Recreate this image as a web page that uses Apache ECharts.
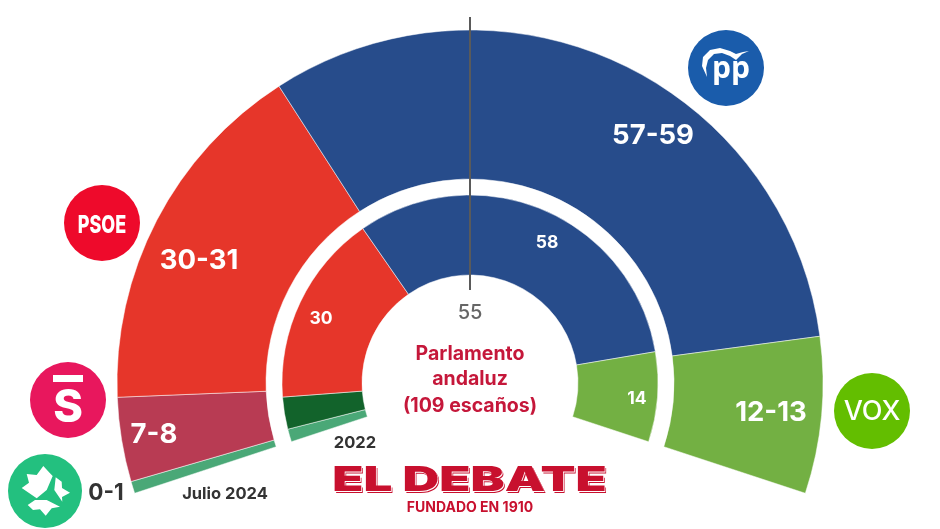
<!DOCTYPE html>
<html><head><meta charset="utf-8">
<style>html,body{margin:0;padding:0;background:#fff}#c{width:940px;height:529px}</style>
<script src="https://cdn.jsdelivr.net/npm/echarts@6/dist/echarts.min.js"></script>
</head><body><div id="c"></div>
<script>
const parties = ['AA','Sumar','PSOE','PP','Vox'];
const poll = [1, 7, 30, 58, 13];
const result2022 = [2, 5, 30, 58, 14];
const pollColors = ['#4aa877','#b83b53','#e6362a','#274c8b','#73b043'];
const colors2022 = ['#4aa877','#12632b','#e6362a','#274c8b','#73b043'];
const pollLabels = ['0-1','7-8','30-31','57-59','12-13'];
const labels2022 = ['','','30','58','14'];
const majority = '55';
const centerLines = ['Parlamento','andaluz','(109 escaños)'];
const F = 'Inter, Roboto, "Liberation Sans", sans-serif';

const CX = 470, CY = 383, SPREAD = 18.2;
function ring(values, colors, radius, z) {
  return {
    type:'pie', center:[CX,CY], radius, startAngle:180+SPREAD, endAngle:-SPREAD,
    clockwise:true, silent:true, z, label:{show:false}, labelLine:{show:false},
    sort:null, avoidLabelOverlap:false, animation:false,
    itemStyle:{borderColor:'#fff', borderWidth:0.5},
    data: values.map((v,i)=>({name:parties[i], value:v, itemStyle:{color:colors[i]}}))
  };
}
function txt(x,y,t,size,fill,weight,extra){
  const family = (extra && extra.family) || F;
  const el = {type:'text',x,y,z:(extra&&extra.z)||20,silent:true,
    style:{text:t,fill,font:`${weight||700} ${size}px ${family}`,align:'center',verticalAlign:'middle'}};
  if (extra && extra.scaleX) el.scaleX = extra.scaleX;
  return el;
}
function disc(x,y,r,fill){return {type:'circle',shape:{cx:x,cy:y,r},style:{fill},z:10,silent:true};}
function poly(points){return {type:'polygon',z:21,silent:true,shape:{points},style:{fill:'#fff'}};}

const graphic = [
  {type:'line',z:15,silent:true,shape:{x1:CX,y1:17,x2:CX,y2:290},style:{stroke:'#5a5a5a',lineWidth:2}},
  txt(470,313,majority,20,'#666',500),
  txt(470,354,centerLines[0],19.5,'#c5173a'),
  txt(470,379,centerLines[1],19.5,'#c5173a'),
  txt(470,406,centerLines[2],19.5,'#c5173a'),
  txt(653,136,pollLabels[3],27.5,'#fff'),
  txt(199,261,pollLabels[2],27.5,'#fff'),
  txt(154,435,pollLabels[1],27.5,'#fff'),
  txt(771,413,pollLabels[4],27.5,'#fff'),
  txt(106,493,pollLabels[0],22.5,'#333'),
  txt(547,243,labels2022[3],17.5,'#fff'),
  txt(321,319,labels2022[2],17.5,'#fff'),
  txt(637,399,labels2022[4],17.5,'#fff'),
  txt(225,494,'Julio 2024',16.5,'#333'),
  txt(355,443,'2022',16.5,'#333'),
  // party badges
  disc(726,68,38,'#1a5cab'),
  txt(731,69,'pp',30,'#fff',700,{family:'"Open Sans", sans-serif'}),
  poly([[707,77],[702,66],[703,57],[710,50],[720,48],[730,51],[736,54],[743,52],[749,51],[742,54],[736,60],[730,56],[722,53],[714,54],[708,60],[706,68]]),
  disc(102,223,38,'#ee0a2b'),
  txt(102,225,'PSOE',25,'#fff',800,{scaleX:0.72}),
  disc(68,400,38,'#e8175d'),
  {type:'rect',z:21,silent:true,shape:{x:53,y:375,width:30,height:7},style:{fill:'#fff'}},
  txt(68,408,'S',45,'#fff',800),
  disc(45,491,37,'#23c07f'),
  poly([[26.7,474],[36.7,475],[43.3,466],[50,473.3],[52.7,476],[46.7,490],[36.7,498.3],[21.7,488],[29,482.7]]),
  poly([[55.7,477.3],[61.7,481.7],[62,488],[70,492.7],[62,497],[62.3,501.7],[54.3,490]]),
  poly([[27.7,505],[35,500],[46.7,500],[60,506.7],[51.7,508.3],[45.7,515.7],[40,509.3],[33,510]]),
  disc(872,411,38,'#63be00'),
  txt(872,412,'VOX',27,'#fff',500),
  // masthead
  txt(471,482.5,'EL DEBATE',34,'#c8102e',900,{scaleX:1.5,z:18}),
  txt(470.2,481.7,'EL DEBATE',34,'#fff',900,{scaleX:1.5,z:19}),
  txt(469.5,481,'EL DEBATE',34,'#c8102e',900,{scaleX:1.5,z:20}),
  txt(470,508,'FUNDADO EN 1910',14,'#c8102e',700)
];

const chart = echarts.init(document.getElementById('c'),null,{renderer:'canvas'});
chart.setOption({
  backgroundColor:'#fff', animation:false,
  series:[ring(poll,pollColors,[204,353],2), ring(result2022,colors2022,[108,188],3)],
  graphic:{elements:graphic}
});
</script></body></html>
